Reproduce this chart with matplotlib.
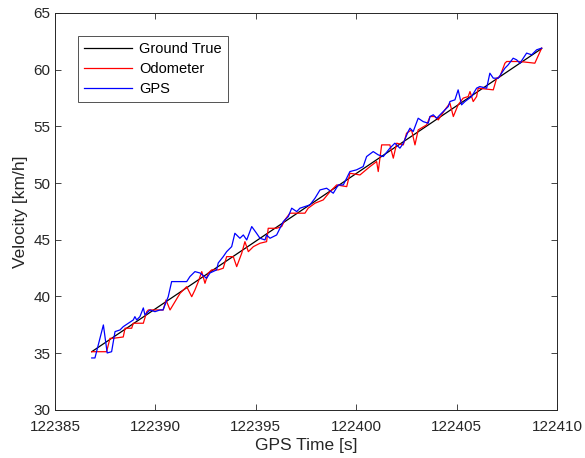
import numpy as np
import matplotlib
matplotlib.use('Agg')
import matplotlib.pyplot as plt
from matplotlib.ticker import FormatStrFormatter

plt.rcParams['font.family'] = ['Liberation Sans', 'DejaVu Sans']

t0 = 122385.0

# ground truth (straight line)
gt_t = [1.83, 24.24]
gt_v = [35.13, 61.85]

# odometer
odo_t = [1.83, 2.57, 2.74, 2.90, 3.40, 3.49, 3.82, 3.90, 4.40, 4.57, 4.65, 5.39, 5.53, 5.73,
         6.23, 6.56, 6.81, 6.97, 7.14, 7.31, 7.47, 7.63, 7.80, 8.13, 8.38, 8.55, 8.88, 9.05,
         9.30, 9.46, 9.63, 9.88, 10.21, 10.54, 10.62, 11.04, 11.29, 11.45, 11.70, 12.45, 12.61,
         12.95, 13.36, 13.70, 14.03, 14.53, 14.69, 15.19, 15.69, 16.02, 16.10, 16.27, 16.68,
         16.85, 17.02, 17.35, 17.51, 17.76, 17.93, 18.09, 18.51, 18.68, 18.92, 19.09, 19.42,
         19.67, 19.84, 20.08, 20.33, 20.58, 20.67, 20.83, 21.00, 21.08, 21.83, 22.00, 22.16,
         22.41, 22.50, 23.16, 23.90, 24.24]
odo_v = [35.13, 35.13, 36.31, 36.31, 36.43, 37.20, 37.20, 37.64, 37.64, 38.66, 38.81, 38.81,
         39.69, 38.81, 40.28, 40.86, 39.98, 40.57, 41.31, 42.19, 41.16, 42.05, 42.34, 42.34,
         42.49, 43.51, 43.51, 42.63, 43.81, 44.83, 43.95, 44.39, 44.69, 44.83, 46.01, 46.01,
         46.16, 46.75, 47.34, 47.34, 47.78, 48.22, 48.51, 49.24, 49.83, 49.68, 50.86, 50.71,
         51.45, 51.89, 51.01, 53.36, 53.36, 52.19, 53.51, 53.36, 54.39, 54.68, 53.36, 54.68,
         55.12, 55.86, 55.86, 55.56, 56.45, 57.04, 55.86, 56.89, 57.48, 57.62, 58.06, 57.18,
         57.62, 58.36, 58.21, 59.24, 59.38, 60.56, 60.71, 60.71, 60.56, 61.89]

# GPS
gps_t = [1.83, 1.99, 2.41, 2.60, 2.82, 2.99, 3.24, 3.40, 3.90, 3.98, 4.07, 4.23, 4.40, 4.48,
         4.73, 4.98, 5.23, 5.38, 5.64, 5.81, 6.56, 6.72, 6.97, 7.22, 7.55, 7.72, 8.05, 8.13,
         8.38, 8.55, 8.80, 8.96, 9.21, 9.38, 9.55, 9.80, 10.04, 10.21, 10.46, 10.54, 10.71,
         11.04, 11.37, 11.62, 11.79, 12.04, 12.20, 12.70, 12.95, 13.20, 13.53, 13.86, 14.11,
         14.36, 14.69, 15.02, 15.35, 15.52, 15.85, 16.10, 16.35, 16.68, 16.93, 17.18, 17.35,
         17.59, 17.68, 17.84, 18.09, 18.34, 18.59, 18.68, 18.84, 19.01, 19.26, 19.59, 19.67,
         19.92, 20.08, 20.25, 20.42, 20.75, 21.00, 21.16, 21.50, 21.66, 21.83, 22.08, 22.41,
         22.57, 22.82, 22.99, 23.16, 23.49, 23.74, 23.99, 24.24]
gps_v = [34.58, 34.58, 37.49, 35.02, 35.13, 36.90, 37.05, 37.34, 37.93, 38.22, 37.93, 38.22,
         38.99, 38.37, 38.81, 38.66, 38.81, 38.81, 39.98, 41.31, 41.31, 41.75, 42.19, 42.07,
         41.60, 42.07, 42.34, 42.95, 43.51, 43.95, 44.39, 45.57, 45.13, 45.42, 44.98, 46.16,
         45.57, 45.13, 44.98, 45.42, 45.13, 45.42, 46.60, 47.04, 47.78, 47.48, 47.78, 48.07,
         48.66, 49.39, 49.54, 49.10, 49.83, 49.83, 51.01, 51.16, 51.45, 52.33, 52.77, 52.48,
         52.33, 53.07, 53.51, 53.07, 53.51, 54.53, 54.83, 54.53, 55.71, 55.41, 55.27, 55.86,
         56.01, 55.71, 56.16, 56.74, 57.18, 57.33, 58.21, 56.89, 57.18, 57.62, 58.36, 58.50,
         58.36, 59.68, 59.24, 59.24, 60.12, 60.41, 61.00, 60.86, 60.56, 61.45, 61.30, 61.74,
         61.89]

fig = plt.figure(figsize=(5.85, 4.58), dpi=100)
ax = fig.add_axes([0.094, 0.105, 0.858, 0.867])

ax.plot(t0 + np.array(gt_t), gt_v, color='k', lw=0.9, label='Ground True')
ax.plot(t0 + np.array(odo_t), odo_v, color='#ff0000', lw=0.9, label='Odometer')
ax.plot(t0 + np.array(gps_t), gps_v, color='#0000ff', lw=0.9, label='GPS')

ax.set_xlim(122385, 122410)
ax.set_ylim(30, 65)
ax.set_xticks(np.arange(122385, 122411, 5))
ax.set_yticks(np.arange(30, 66, 5))
ax.xaxis.set_major_formatter(FormatStrFormatter('%d'))
ax.tick_params(direction='in', top=True, right=True, labelsize=11, colors='#262626',
               length=4, width=0.6)
ax.tick_params(axis='x', pad=7)
for s in ax.spines.values():
    s.set_color('#262626')
    s.set_linewidth(0.7)

ax.set_xlabel('GPS Time [s]', fontsize=12.5, color='#262626', labelpad=3)
ax.set_ylabel('Velocity [km/h]', fontsize=12.5, color='#262626', labelpad=4)

leg = ax.legend(loc='upper left', bbox_to_anchor=(0.046, 0.942), fontsize=10.5, frameon=True,
                fancybox=False, edgecolor='#262626', handlelength=3.3, borderpad=0.4,
                labelspacing=0.42, handletextpad=0.5, borderaxespad=0)
leg.get_frame().set_linewidth(0.7)

fig.savefig('out.png', dpi=100)
